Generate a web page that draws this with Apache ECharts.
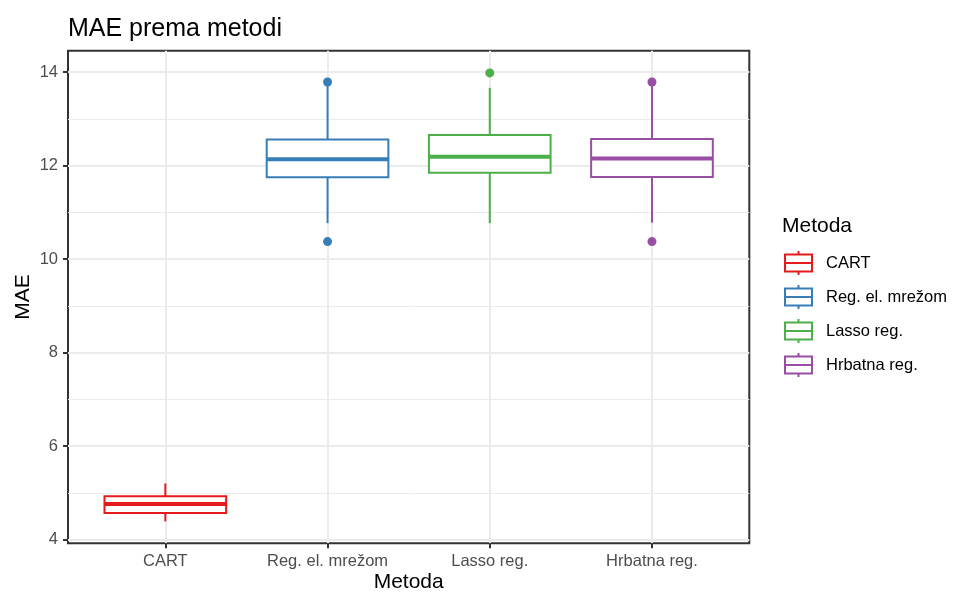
<!DOCTYPE html>
<html>
<head>
<meta charset="utf-8">
<script src="https://cdn.jsdelivr.net/npm/echarts@6/dist/echarts.min.js"></script>
<style>
html,body{margin:0;padding:0;background:#ffffff;}
#chart{width:954px;height:592px;}
</style>
</head>
<body>
<div id="chart"></div>
<script>
// ---- data ----
const methods = ['CART', 'Reg. el. mrežom', 'Lasso reg.', 'Hrbatna reg.'];
// [lower whisker, Q1, median, Q3, upper whisker]
const cartBox = [4.39, 4.57, 4.76, 4.925, 5.20];
const regBox = [10.77, 11.75, 12.135, 12.56, 13.72];
const lassoBox = [10.77, 11.85, 12.19, 12.655, 13.665];
const hrbatnaBox = [10.78, 11.76, 12.155, 12.57, 13.72];
// outliers
const cartOut = [];
const regOut = [13.79, 10.375];
const lassoOut = [13.985];
const hrbatnaOut = [13.79, 10.375];
const yTicks = [4, 6, 8, 10, 12, 14];
const yMinorTicks = [5, 7, 9, 11, 13];

// ---- styles ----
const palette = ['#E41A1C', '#377EB8', '#4DAF4A', '#984EA3'];
const FONT = 'Liberation Sans, Arial, Helvetica, sans-serif';
const boxes = [cartBox, regBox, lassoBox, hrbatnaBox];
const outs = [cartOut, regOut, lassoOut, hrbatnaOut];

function renderBox(params, api) {
  const x = api.value(0);
  const lo = api.coord([x, api.value(1)]);
  const q1 = api.coord([x, api.value(2)]);
  const md = api.coord([x, api.value(3)]);
  const q3 = api.coord([x, api.value(4)]);
  const hi = api.coord([x, api.value(5)]);
  const w = api.size([0.75, 0])[0];
  const color = api.visual('color');
  const cx = lo[0];
  const left = cx - w / 2;
  const lineStyle = {stroke: color, lineWidth: 2, fill: null};
  return {
    type: 'group',
    children: [
      {type: 'line', shape: {x1: cx, y1: hi[1], x2: cx, y2: q3[1]}, style: lineStyle},
      {type: 'line', shape: {x1: cx, y1: q1[1], x2: cx, y2: lo[1]}, style: lineStyle},
      {type: 'rect', shape: {x: left, y: q3[1], width: w, height: q1[1] - q3[1]},
        style: {stroke: color, lineWidth: 2, fill: '#ffffff'}},
      {type: 'line', shape: {x1: left, y1: md[1], x2: left + w, y2: md[1]},
        style: {stroke: color, lineWidth: 4, fill: null}}
    ]
  };
}

const series = [];
methods.forEach((m, i) => {
  series.push({
    name: m,
    type: 'custom',
    renderItem: renderBox,
    itemStyle: {color: palette[i]},
    dimensions: ['x', 'lo', 'q1', 'med', 'q3', 'hi'],
    encode: {x: 0, y: [1, 2, 3, 4, 5]},
    data: [[i].concat(boxes[i])],
    z: 3
  });
  series.push({
    name: m,
    type: 'scatter',
    symbol: 'circle',
    symbolSize: 9,
    itemStyle: {color: palette[i], opacity: 1},
    data: outs[i].map(v => [i, v]),
    z: 4
  });
});

const legendIcon = 'path://M13.5,0L13.5,3.5M0,3.5L27,3.5L27,20.5L0,20.5ZM0,12L27,12M13.5,20.5L13.5,24';

const option = {
  animation: false,
  backgroundColor: '#ffffff',
  textStyle: {fontFamily: FONT},
  title: {
    text: 'MAE prema metodi',
    left: 68,
    top: 17,
    padding: 0,
    textStyle: {fontFamily: FONT, fontSize: 25, fontWeight: 'normal', color: '#000000'}
  },
  legend: {
    orient: 'vertical',
    left: 784,
    top: 250,
    itemWidth: 27,
    itemHeight: 24,
    itemGap: 8,
    padding: 0,
    selectedMode: false,
    textStyle: {fontFamily: FONT, fontSize: 16.5, color: '#000000', padding: [0, 0, 0, 9]},
    data: methods.map((m, i) => ({
      name: m,
      icon: legendIcon,
      itemStyle: {color: 'rgba(0,0,0,0)', borderColor: palette[i], borderWidth: 2}
    }))
  },
  graphic: [
    {type: 'text', x: 408.7, y: 582, style: {text: 'Metoda', fontFamily: FONT, fontSize: 21, fill: '#000000', align: 'center', verticalAlign: 'middle'}},
    {type: 'text', x: 23, y: 297, rotation: Math.PI / 2, style: {text: 'MAE', fontFamily: FONT, fontSize: 21, fill: '#000000', align: 'center', verticalAlign: 'middle'}},
    {type: 'text', x: 782, y: 226, style: {text: 'Metoda', fontFamily: FONT, fontSize: 21, fill: '#000000', align: 'left', verticalAlign: 'middle'}}
  ],
  grid: {
    left: 68,
    right: 954 - 749.3,
    top: 50.7,
    bottom: 592 - 543.3,
    show: true,
    backgroundColor: '#ffffff',
    borderColor: '#333333',
    borderWidth: 2,
    containLabel: false
  },
  xAxis: {
    type: 'value',
    min: -0.6,
    max: 3.6,
    axisLine: {show: false, onZero: false},
    axisTick: {show: true, length: 5, customValues: [0, 1, 2, 3], lineStyle: {color: '#333333', width: 2}},
    axisLabel: {
      customValues: [0, 1, 2, 3],
      margin: 10,
      fontFamily: FONT,
      fontSize: 16.5,
      color: '#4D4D4D',
      formatter: v => methods[Math.round(v)] || ''
    },
    splitLine: {show: true, lineStyle: {color: '#EBEBEB', width: 2}}
  },
  yAxis: [
    {
      type: 'value',
      min: 3.92,
      max: 14.46,
      axisLine: {show: false, onZero: false},
      axisTick: {show: true, length: 5, customValues: yTicks, lineStyle: {color: '#333333', width: 2}},
      axisLabel: {customValues: yTicks, margin: 10, fontFamily: FONT, fontSize: 16.5, color: '#4D4D4D'},
      splitLine: {show: true, lineStyle: {color: '#EBEBEB', width: 2}}
    },
    {
      type: 'value',
      min: 3.92,
      max: 14.46,
      position: 'left',
      axisLine: {show: false, onZero: false},
      axisTick: {show: false, customValues: yMinorTicks},
      axisLabel: {show: false},
      splitLine: {show: true, lineStyle: {color: '#EBEBEB', width: 1}}
    }
  ],
  series: series
};

const chart = echarts.init(document.getElementById('chart'), null, {renderer: 'canvas'});
chart.setOption(option);
</script>
</body>
</html>
